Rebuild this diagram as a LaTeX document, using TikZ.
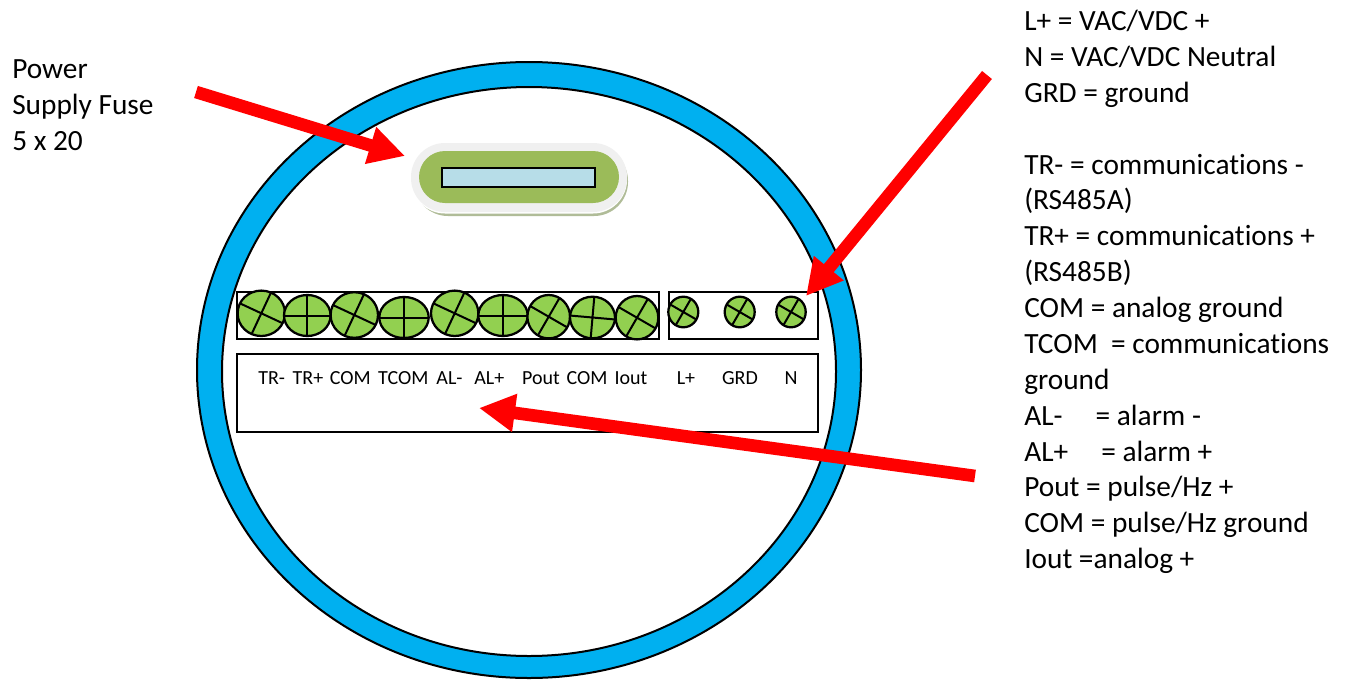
\documentclass[tikz,border=0pt]{standalone}
\usepackage{fontspec}
\setmainfont{Carlito}[Ligatures=NoCommon]
\usetikzlibrary{arrows.meta,shapes.geometric}
\definecolor{ringblue}{RGB}{0,176,240}
\definecolor{screwgreen}{RGB}{146,208,80}
\definecolor{fusegreen}{RGB}{155,187,89}
\definecolor{fuseglass}{RGB}{183,221,232}
\definecolor{fuserim}{RGB}{240,240,240}
\definecolor{fuseshade}{RGB}{176,188,152}
\tikzset{
  screw/.style={ellipse,draw=black,line width=1.7pt,fill=screwgreen,inner sep=0pt,outer sep=0pt},
  panel/.style={rectangle,draw=black,line width=1.4pt,inner sep=0pt,outer sep=0pt},
  pill/.style={rectangle,inner sep=0pt,outer sep=0pt},
  termlabel/.style={font=\fontsize{15}{18}\selectfont,inner sep=0pt,anchor=base},
  note/.style={font=\fontsize{22}{26.9}\selectfont,align=left,anchor=north west,inner sep=0pt},
  pointer/.style={draw=red,line width=9.5pt,-{Triangle[length=27pt,width=27pt,fill=red]}}
}
\begin{document}
\begin{tikzpicture}[x=0.75pt,y=-0.75pt]
  \useasboundingbox (0,0) rectangle (1346,679);
  % ring
  \draw[fill=ringblue,line width=1.5pt] (529,370) ellipse[x radius=332,y radius=308];
  \draw[fill=white,line width=1.5pt] (529,371.5) ellipse[x radius=307,y radius=284.5];
  % fuse
  \node[pill,fill=fuseshade,minimum width=214pt*0.75,minimum height=69pt*0.75,rounded corners=25.5pt] (fuseshade) at (521,181.5) {};
  \node[pill,fill=white,minimum width=216pt*0.75,minimum height=69pt*0.75,rounded corners=25.5pt] (fusegap) at (519,179) {};
  \node[pill,fill=fuserim,minimum width=216pt*0.75,minimum height=69pt*0.75,rounded corners=25.5pt] (fuserim) at (519,177.5) {};
  \node[pill,fill=fusegreen,minimum width=200pt*0.75,minimum height=52pt*0.75,rounded corners=19.5pt] (fusebody) at (519,177) {};
  \node[panel,fill=fuseglass,minimum width=153pt*0.75,minimum height=19pt*0.75] (fuseglass) at (518.5,177.5) {};
  % terminal panels
  \node[panel,minimum width=422pt*0.75,minimum height=47pt*0.75] (bigpanel) at (448,315.5) {};
  \node[panel,minimum width=149pt*0.75,minimum height=47pt*0.75] (smallpanel) at (743.5,315.5) {};
  \node[panel,minimum width=581pt*0.75,minimum height=78pt*0.75] (labelpanel) at (527.5,393) {};
  % screws
  \foreach \n/\x/\y/\w/\h/\ang in {
    1/261.3/313.3/47.4/45.4/-25, 2/307.3/315.5/46.6/41/0,
    3/354.3/315/47.4/45.6/-25, 4/404/317.5/49.4/41/0,
    5/454.7/313.3/47.4/45.4/-25, 6/503/315.5/49.4/41/0,
    7/548.7/316.7/42.6/43.4/-30, 8/592.5/317.5/45/41.6/-5,
    9/637/317.7/42.6/43.4/-30,
    10/683.3/312/30/30.6/-30, 11/739.7/312/30/30.6/-30, 12/791/312/29.4/30.6/-30}
  {
    \node[screw,minimum width=\w*0.75pt,minimum height=\h*0.75pt] (screw\n) at (\x,\y) {};
    \pgfmathtruncatemacro\opp{\ang+180}
    \pgfmathtruncatemacro\up{\ang+90}
    \pgfmathtruncatemacro\down{\ang+270}
    \draw[line width=1.5pt] (screw\n.\ang) -- (screw\n.\opp) (screw\n.\up) -- (screw\n.\down);
  }
  % terminal labels
  \foreach \n/\x/\t in {1/271.7/TR-, 2/308/TR+, 3/350.3/COM, 4/403.3/TCOM, 5/449.5/AL-, 6/489.3/AL+,
    7/541/Pout, 8/587/COM, 9/631/Iout, 10/686/L+, 11/740/GRD, 12/791/N}
  {
    \node[termlabel] (label\n) at (\x,384) {\t};
  }
  % notes
  \node[note] (fusenote) at (12,59.5) {Power\\Supply Fuse\\5 x 20};
  \node[note] (legend) at (1024,10) {L+ = VAC/VDC +\\N = VAC/VDC Neutral\\GRD = ground\\[26.9pt]
    TR- = communications -\\(RS485A)\\TR+ = communications +\\(RS485B)\\COM = analog ground\\
    TCOM\ \ = communications\\ground\\AL-\ \ \ \ \ = alarm -\\AL+\ \ \ \ \ = alarm +\\
    Pout = pulse/Hz +\\COM = pulse/Hz ground\\Iout =analog +};
  % pointers
  \coordinate (fusefrom) at (196,92);
  \coordinate (fusetip) at (405,156);
  \coordinate (powerfrom) at (987,75);
  \coordinate (powertip) at (806,296);
  \coordinate (signalfrom) at (975,476);
  \coordinate (signaltip) at (479,408);
  \draw[pointer] (fusefrom) -- (fusetip);
  \draw[pointer] (powerfrom) -- (powertip);
  \draw[pointer] (signalfrom) -- (signaltip);
\end{tikzpicture}
\end{document}
